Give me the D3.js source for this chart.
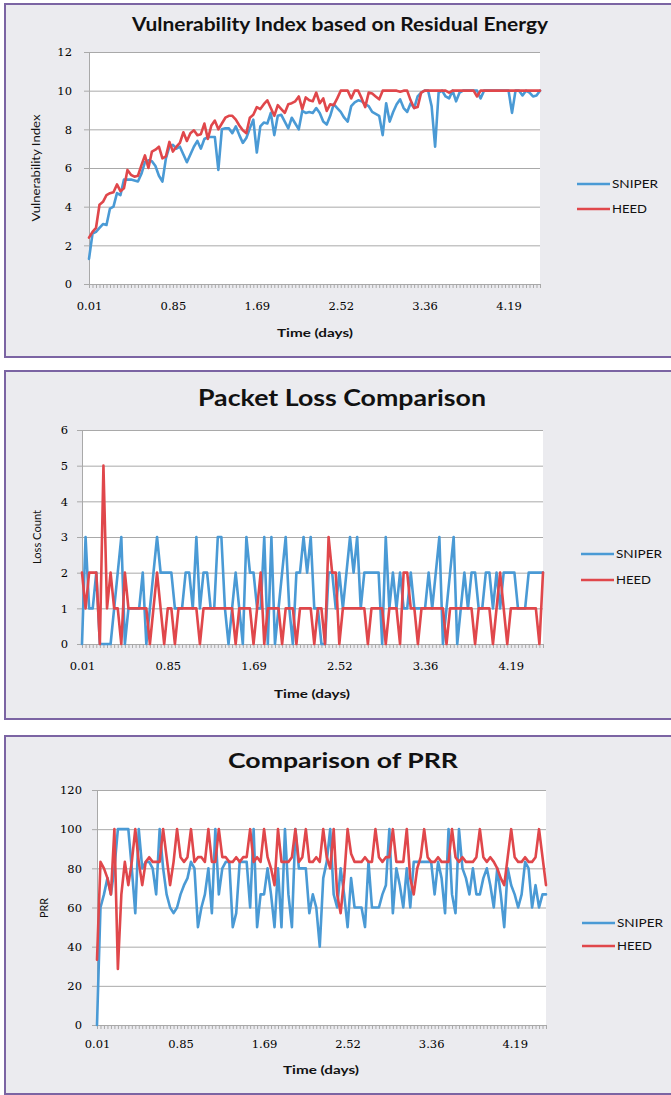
<!DOCTYPE html>
<html><head><meta charset="utf-8">
<script src="https://cdn.jsdelivr.net/npm/d3@7"></script>
<style>body{margin:0;background:#fff;overflow:hidden}</style>
</head><body>
<svg id="c" width="671" height="1095"></svg>
<script>
// ---------- DATA ----------
const timeLabels = ["0.01","0.85","1.69","2.52","3.36","4.19"];
const labelIndex = [0,24,48,72,96,120];
const seriesNames = ["SNIPER","HEED"];

const vulnSniper = [1.3,2.6,2.7,2.9,3.1,3.05,3.9,4.0,4.7,4.6,5.4,5.4,5.4,5.35,5.3,5.7,6.3,6.4,6.35,6.1,
5.6,5.3,6.5,7.1,7.2,7.0,7.1,6.7,6.3,6.7,7.1,7.4,7.0,7.5,7.6,7.6,7.6,5.9,8.0,8.05,
8.05,7.8,8.15,7.7,7.3,7.55,8.05,8.5,6.8,8.15,8.35,8.3,8.85,7.7,8.7,8.75,8.4,8.05,8.6,8.3,
8.0,8.95,8.85,8.9,8.85,9.1,8.85,8.4,8.25,8.7,9.3,9.1,8.9,8.6,8.4,9.2,9.4,9.5,9.45,9.3,
9.2,8.9,8.8,8.7,7.7,9.35,8.4,8.9,9.3,9.55,9.1,8.9,9.35,9.1,9.7,9.9,10,10,9.2,7.1,
9.9,10,9.7,9.6,10,9.45,9.9,10,10,10,10,10,9.6,10,10,10,10,10,10,10,
10,8.85,10,10,9.75,10,9.9,9.7,9.75,10];
const vulnHeed = [2.4,2.7,2.9,4.1,4.25,4.6,4.7,4.75,5.15,4.8,4.95,5.9,5.65,5.55,5.6,6.15,6.65,6.0,6.85,6.95,
7.1,6.5,6.6,7.35,6.85,7.1,7.3,7.85,7.4,7.8,7.95,7.7,7.75,8.3,7.5,8.2,8.45,8.0,8.3,8.6,
8.7,8.7,8.5,8.2,7.95,7.8,8.6,8.75,9.15,9.05,9.3,9.5,9.1,8.7,9.25,9.05,8.85,9.3,9.35,9.45,
9.7,9.05,9.65,9.5,9.45,9.9,9.35,9.6,8.95,9.3,9.25,9.6,10,10,10,9.6,10,10,9.6,9.15,
9.9,9.85,9.7,9.55,10,10,10,10,10,9.95,10,10,9.5,9.1,9.15,9.9,10,10,10,10,
10,10,10,9.9,10,10,10,10,10,10,10,9.7,10,10,10,10,10,10,10,10,
10,10,10,10,10,10,10,10,10,10];

const lossSniper = [0,3,1,1,2,0,0,0,0,1,2,3,0,1,1,1,1,2,0,1,
2,3,2,2,2,2,1,1,1,2,2,1,3,1,2,2,1,1,3,3,
1,0,1,2,1,0,3,2,2,1,1,3,0,3,0,1,2,3,1,0,
2,2,3,2,3,1,1,0,0,2,2,1,2,1,2,3,2,3,1,2,
2,2,2,2,0,3,1,2,1,2,1,1,2,1,1,1,1,2,1,2,
3,0,1,2,3,0,1,2,1,2,2,1,1,2,2,1,2,1,2,2,
2,2,1,1,1,2,2,2,2,2];
const lossHeed = [2,1,2,2,2,0,5,1,2,1,1,0,2,1,1,1,1,1,1,0,
1,2,1,0,1,1,0,1,1,1,1,1,1,0,1,1,1,1,1,1,
1,1,1,0,1,1,1,1,0,1,2,0,1,1,1,1,0,1,1,1,
0,1,1,1,1,0,1,1,0,3,2,2,0,1,1,1,1,1,1,1,
0,1,1,1,1,0,1,1,1,0,2,2,1,1,0,1,1,1,1,1,
1,1,0,1,1,1,1,1,1,1,0,1,1,1,1,0,1,2,1,0,
1,1,1,1,1,1,1,1,0,2];

const prrSniper = [0,60,66.7,75,66.7,80,100,100,100,100,80,57.1,100,80,83.3,83.3,80,66.7,100,80,
66.7,60,57.1,60,66.7,71.4,75,83.3,80,50,60,66.7,80,57.1,100,66.7,80,83.3,83.3,50,
57.1,83.3,83.3,83.3,60,100,50,66.7,66.7,80,66.7,50,80,50,100,66.7,50,100,80,80,
80,57.1,66.7,60,40,75,83.3,100,66.7,60,80,66.7,50,75,60,60,60,50,83.3,60,
60,60,66.7,71.4,100,57.1,80,71.4,60,80,60,83.3,83.3,83.3,83.3,83.3,83.3,66.7,83.3,75,
57.1,100,66.7,57.1,100,80,75,66.7,80,66.7,66.7,75,80,71.4,60,80,66.7,50,80,71.4,
66.7,60,66.7,83.3,80,60,71.4,60,66.7,66.7];
const prrHeed = [33.3,83.3,80,75,66.7,100,28.6,66.7,83.3,71.4,83.3,100,83.3,71.4,83.3,85.7,83.3,83.3,83.3,100,
85.7,71.4,83.3,100,85.7,83.3,85.7,100,83.3,85.7,85.7,83.3,100,83.3,83.3,100,85.7,85.7,83.3,83.3,
85.7,83.3,85.7,85.7,100,83.3,85.7,83.3,100,85.7,80,71.4,100,83.3,83.3,83.3,85.7,100,83.3,85.7,
100,83.3,83.3,85.7,83.3,100,85.7,80,100,66.7,57.1,75,100,87.5,83.3,83.3,83.3,85.7,83.3,83.3,
100,85.7,83.3,85.7,85.7,100,83.3,83.3,83.3,100,75,66.7,80,85.7,100,85.7,83.3,83.3,85.7,83.3,
83.3,83.3,100,85.7,83.3,85.7,83.3,83.3,83.3,85.7,100,85.7,83.3,85.7,83.3,80,75,71.4,85.7,100,
85.7,83.3,83.3,85.7,83.3,83.3,85.7,100,85.7,71.4];

// ---------- STYLE / LAYOUT ----------
const colors = {SNIPER:"#4A9AD5", HEED:"#E0474B"};
const frameColor = "#7B64A3", frameFill = "#EBEBEF", gridColor = "#A9A9A9";
const sansFont = "Lato, 'Open Sans', sans-serif";
const serifFont = "'DejaVu Serif', serif";

const panels = [
  {top:4, bottom:357, title:"Vulnerability Index based on Residual Energy", tX:340, tY:31, tSize:18, tLen:416,
   plot:{l:89,r:540,t:52,b:284}, yMax:12, yStep:2, yLabGap:17, yTitle:"Vulnerability Index", yTX:40, yTY:168, yTLen:107,
   xTitleX:315, xTitleY:337, xLabBase:310, legX:577, legY:[184,209],
   data:[vulnSniper, vulnHeed]},
  {top:371, bottom:719, title:"Packet Loss Comparison", tX:342, tY:406, tSize:22, tLen:288,
   plot:{l:82,r:543,t:430,b:644}, yMax:6, yStep:1, yLabGap:14, yTitle:"Loss Count", yTX:41, yTY:537, yTLen:54,
   xTitleX:312, xTitleY:698, xLabBase:670, legX:581, legY:[554,580],
   data:[lossSniper, lossHeed]},
  {top:736, bottom:1094, title:"Comparison of PRR", tX:343, tY:768, tSize:21, tLen:230,
   plot:{l:97,r:546,t:790,b:1025}, yMax:120, yStep:20, yLabGap:15, yTitle:"PRR", yTX:48, yTY:908, yTLen:20,
   xTitleX:321, xTitleY:1074, xLabBase:1048, legX:582, legY:[923,946],
   data:[prrSniper, prrHeed]}
];

const svg = d3.select("#c");

panels.forEach(p => {
  const g = svg.append("g");
  g.append("rect").attr("x",5).attr("y",p.top).attr("width",720).attr("height",p.bottom-p.top)
    .attr("fill",frameFill).attr("stroke",frameColor).attr("stroke-width",2);

  // title
  g.append("text").attr("x",p.tX).attr("y",p.tY).attr("text-anchor","middle")
    .attr("font-family",sansFont).attr("font-weight","bold").attr("font-size",p.tSize)
    .attr("textLength",p.tLen).attr("lengthAdjust","spacingAndGlyphs").attr("fill","#111").text(p.title);

  const P = p.plot;
  g.append("rect").attr("x",P.l).attr("y",P.t).attr("width",P.r-P.l).attr("height",P.b-P.t).attr("fill","#fff");

  const n = p.data[0].length;
  const x = d3.scaleLinear().domain([0,n-1]).range([P.l,P.r]);
  const y = d3.scaleLinear().domain([0,p.yMax]).range([P.b,P.t]);
  const yTicks = d3.range(0,p.yMax+p.yStep/2,p.yStep);

  // gridlines
  const grid = g.append("g").attr("transform",`translate(${P.l},0)`)
    .call(d3.axisLeft(y).tickValues(yTicks).tickSize(-(P.r-P.l)).tickFormat(""));
  grid.select(".domain").remove();
  grid.selectAll("line").attr("stroke",gridColor).attr("stroke-width",1);

  // y axis
  const ya = g.append("g").attr("transform",`translate(${P.l},0)`)
    .call(d3.axisLeft(y).tickValues(yTicks).tickSize(5).tickSizeOuter(0)
      .tickPadding(p.yLabGap-5).tickFormat(d3.format("d")));
  ya.select(".domain").attr("stroke",gridColor);
  ya.selectAll("line").attr("stroke",gridColor);
  ya.selectAll("text").attr("font-family",serifFont).attr("font-size",11.5).attr("fill","#000");

  // x axis minor ticks (every category)
  const xm = g.append("g").attr("transform",`translate(0,${P.b})`)
    .call(d3.axisBottom(x).tickValues(d3.range(n)).tickSize(4).tickSizeOuter(0).tickFormat(""));
  xm.select(".domain").attr("stroke",gridColor);
  xm.selectAll("line").attr("stroke",gridColor);

  // x axis labels
  const xa = g.append("g").attr("transform",`translate(0,${P.b})`)
    .call(d3.axisBottom(x).tickValues(labelIndex).tickSize(0).tickSizeOuter(0)
      .tickFormat((d,i)=>timeLabels[i]));
  xa.select(".domain").remove();
  xa.selectAll("text").attr("y",p.xLabBase-P.b).attr("dy",0)
    .attr("font-family",serifFont).attr("font-size",11.5).attr("fill","#000");

  // axis titles
  g.append("text").attr("x",p.xTitleX).attr("y",p.xTitleY).attr("text-anchor","middle")
    .attr("font-family",sansFont).attr("font-weight","bold").attr("font-size",12)
    .attr("textLength",76).attr("lengthAdjust","spacingAndGlyphs").attr("fill","#111").text("Time (days)");
  g.append("text").attr("transform",`translate(${p.yTX},${p.yTY}) rotate(-90)`).attr("text-anchor","middle")
    .attr("font-family",sansFont).attr("font-size",11.5)
    .attr("textLength",p.yTLen).attr("lengthAdjust","spacingAndGlyphs").attr("fill","#111").text(p.yTitle);

  // lines
  const line = d3.line().x((d,i)=>x(i)).y(d=>y(d));
  p.data.forEach((s,k) => {
    g.append("path").datum(s).attr("d",line).attr("fill","none")
      .attr("stroke",colors[seriesNames[k]]).attr("stroke-width",2.6)
      .attr("stroke-linejoin","round").attr("stroke-linecap","round");
  });

  // legend
  seriesNames.forEach((nm,k) => {
    const ly = p.legY[k];
    g.append("line").attr("x1",p.legX).attr("x2",p.legX+33).attr("y1",ly).attr("y2",ly)
      .attr("stroke",colors[nm]).attr("stroke-width",2.6);
    g.append("text").attr("x",p.legX+35).attr("y",ly).attr("dy","0.36em")
      .attr("font-family",sansFont).attr("font-size",12)
      .attr("textLength",nm==="SNIPER"?46:35).attr("lengthAdjust","spacingAndGlyphs")
      .attr("fill","#111").text(nm);
  });
});
</script>
</body></html>
